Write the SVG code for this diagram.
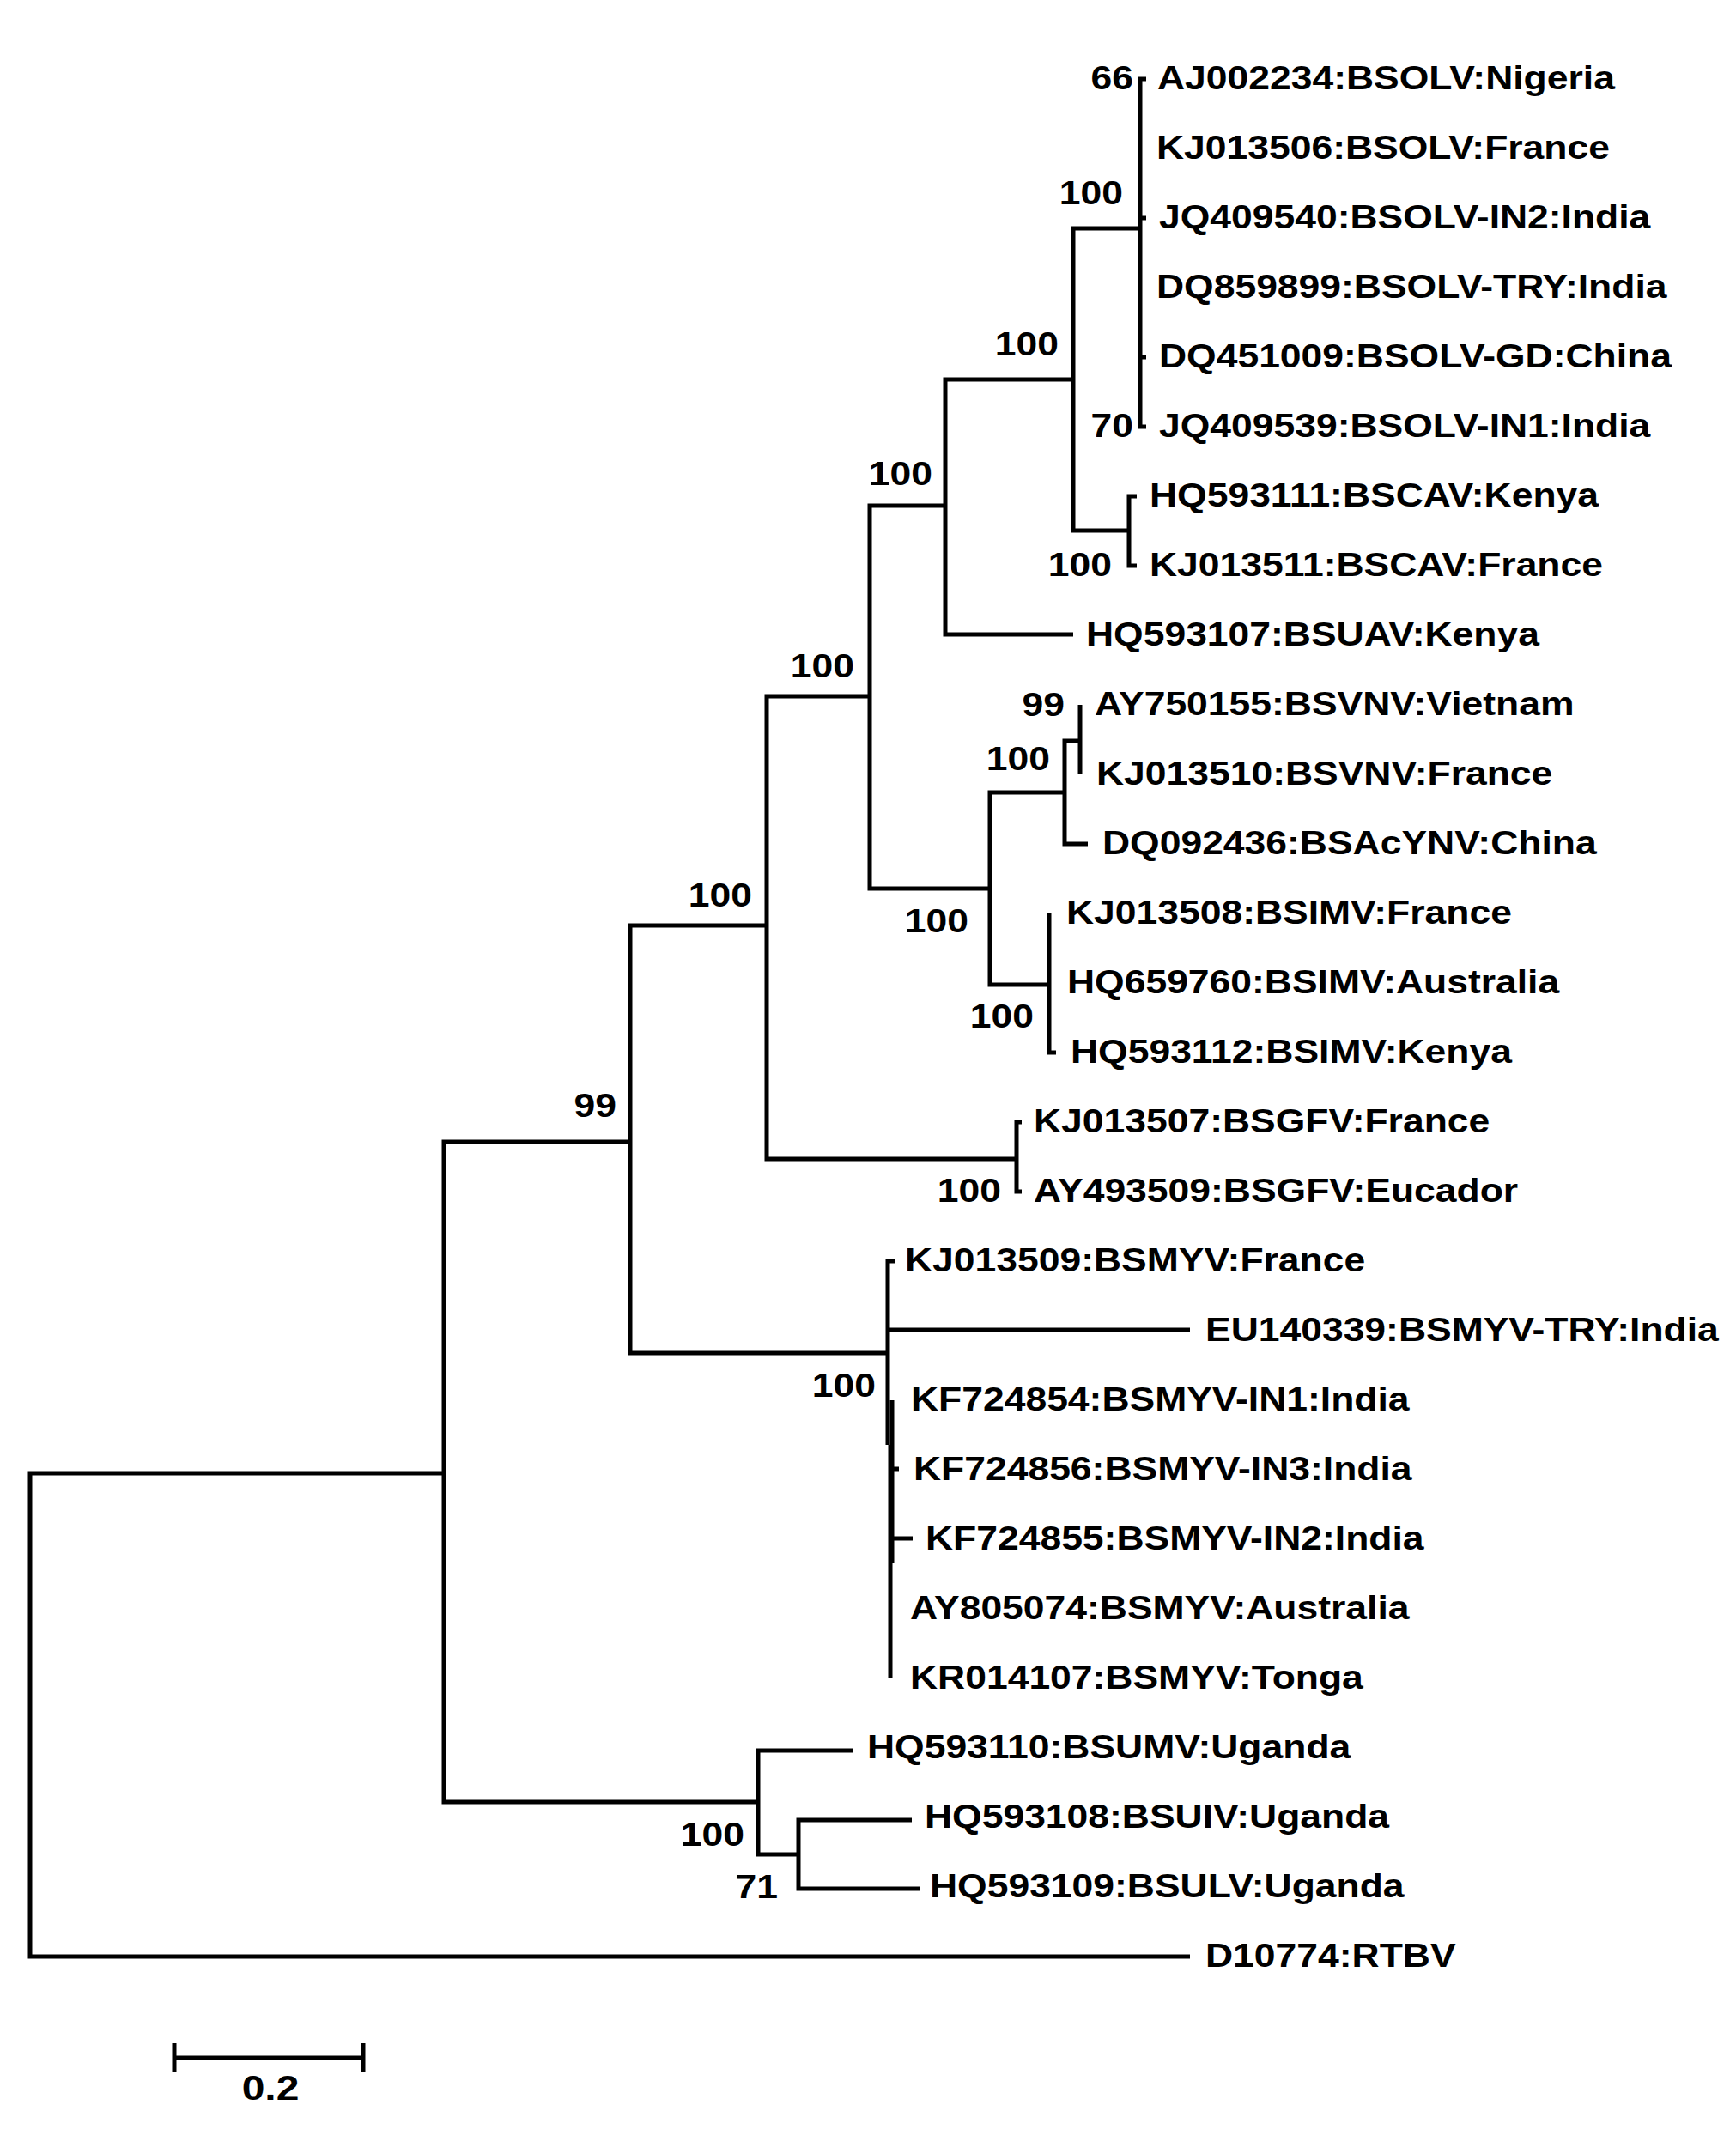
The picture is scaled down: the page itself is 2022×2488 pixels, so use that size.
<svg xmlns="http://www.w3.org/2000/svg" width="2022" height="2488" viewBox="0 0 2022 2488">
<style>
.br{fill:none;stroke:#000;stroke-width:5;stroke-linejoin:miter;stroke-linecap:butt}
.lab{font-family:"Liberation Sans",Arial,sans-serif;font-weight:bold;font-size:38.5px;fill:#000}
.bs{font-family:"Liberation Sans",Arial,sans-serif;font-weight:bold;font-size:38.5px;fill:#000;text-anchor:end}
.sc{font-family:"Liberation Sans",Arial,sans-serif;font-weight:bold;font-size:40px;fill:#000;text-anchor:middle}
</style>
<rect width="2022" height="2488" fill="#fff"/>
<g id="branches" class="br">
<path d="M517,1716 H35 V2279 H1386"/>
<path d="M734,1330 H517 V2099 H883"/>
<path d="M893,1078 H734 V1576 H1034"/>
<path d="M1013,811 H893 V1350 H1184"/>
<path d="M1101,589 H1013 V1035 H1153"/>
<path d="M1250,442 H1101 V739 H1250"/>
<path d="M1328,266 H1250 V618 H1315"/>
<path d="M1335,92 H1328 V497 H1335 M1328,254 H1335 M1328,416 H1335"/>
<path d="M1324,578 H1315 V659 H1324"/>
<path d="M1240,923 H1153 V1147 H1222"/>
<path d="M1258,863 H1240 V983 H1267"/>
<path d="M1258,821 V902"/>
<path d="M1222,1064 V1226 H1230"/>
<path d="M1190,1307 H1184 V1388 H1190"/>
<path d="M1042,1469 H1034 V1683 M1034,1549 H1386"/>
<path d="M1039,1631 V1820 M1037,1683 V1955 M1039,1711 H1047 M1039,1792 H1063"/>
<path d="M993,2039 H883 V2160 H930"/>
<path d="M1062,2120 H930 V2200 H1072"/>
</g>
<g id="leaves">
<g id="n0"><text class="lab" transform="translate(1348,104) scale(1.155 1)">AJ002234:BSOLV:Nigeria</text></g>
<g id="n1"><text class="lab" transform="translate(1347,185) scale(1.155 1)">KJ013506:BSOLV:France</text></g>
<g id="n2"><text class="lab" transform="translate(1350,266) scale(1.155 1)">JQ409540:BSOLV-IN2:India</text></g>
<g id="n3"><text class="lab" transform="translate(1347,347) scale(1.155 1)">DQ859899:BSOLV-TRY:India</text></g>
<g id="n4"><text class="lab" transform="translate(1350,428) scale(1.155 1)">DQ451009:BSOLV-GD:China</text></g>
<g id="n5"><text class="lab" transform="translate(1350,509) scale(1.155 1)">JQ409539:BSOLV-IN1:India</text></g>
<g id="n6"><text class="lab" transform="translate(1339,590) scale(1.155 1)">HQ593111:BSCAV:Kenya</text></g>
<g id="n7"><text class="lab" transform="translate(1339,671) scale(1.155 1)">KJ013511:BSCAV:France</text></g>
<g id="n8"><text class="lab" transform="translate(1265,752) scale(1.155 1)">HQ593107:BSUAV:Kenya</text></g>
<g id="n9"><text class="lab" transform="translate(1275,833) scale(1.155 1)">AY750155:BSVNV:Vietnam</text></g>
<g id="n10"><text class="lab" transform="translate(1277,914) scale(1.155 1)">KJ013510:BSVNV:France</text></g>
<g id="n11"><text class="lab" transform="translate(1284,995) scale(1.155 1)">DQ092436:BSAcYNV:China</text></g>
<g id="n12"><text class="lab" transform="translate(1242,1076) scale(1.155 1)">KJ013508:BSIMV:France</text></g>
<g id="n13"><text class="lab" transform="translate(1243,1157) scale(1.155 1)">HQ659760:BSIMV:Australia</text></g>
<g id="n14"><text class="lab" transform="translate(1247,1238) scale(1.155 1)">HQ593112:BSIMV:Kenya</text></g>
<g id="n15"><text class="lab" transform="translate(1204,1319) scale(1.155 1)">KJ013507:BSGFV:France</text></g>
<g id="n16"><text class="lab" transform="translate(1204,1400) scale(1.155 1)">AY493509:BSGFV:Eucador</text></g>
<g id="n17"><text class="lab" transform="translate(1054,1481) scale(1.155 1)">KJ013509:BSMYV:France</text></g>
<g id="n18"><text class="lab" transform="translate(1404,1562) scale(1.155 1)">EU140339:BSMYV-TRY:India</text></g>
<g id="n19"><text class="lab" transform="translate(1061,1643) scale(1.155 1)">KF724854:BSMYV-IN1:India</text></g>
<g id="n20"><text class="lab" transform="translate(1064,1724) scale(1.155 1)">KF724856:BSMYV-IN3:India</text></g>
<g id="n21"><text class="lab" transform="translate(1078,1805) scale(1.155 1)">KF724855:BSMYV-IN2:India</text></g>
<g id="n22"><text class="lab" transform="translate(1060,1886) scale(1.155 1)">AY805074:BSMYV:Australia</text></g>
<g id="n23"><text class="lab" transform="translate(1060,1967) scale(1.155 1)">KR014107:BSMYV:Tonga</text></g>
<g id="n24"><text class="lab" transform="translate(1010,2048) scale(1.155 1)">HQ593110:BSUMV:Uganda</text></g>
<g id="n25"><text class="lab" transform="translate(1077,2129) scale(1.155 1)">HQ593108:BSUIV:Uganda</text></g>
<g id="n26"><text class="lab" transform="translate(1083,2210) scale(1.155 1)">HQ593109:BSULV:Uganda</text></g>
<g id="n27"><text class="lab" transform="translate(1404,2291) scale(1.155 1)">D10774:RTBV</text></g>
</g>
<g id="bootstrap">
<text class="bs" transform="translate(1320,104) scale(1.155 1)">66</text>
<text class="bs" transform="translate(1308,238) scale(1.155 1)">100</text>
<text class="bs" transform="translate(1320,509) scale(1.155 1)">70</text>
<text class="bs" transform="translate(1295,671) scale(1.155 1)">100</text>
<text class="bs" transform="translate(1233,414) scale(1.155 1)">100</text>
<text class="bs" transform="translate(1086,565) scale(1.155 1)">100</text>
<text class="bs" transform="translate(995,789) scale(1.155 1)">100</text>
<text class="bs" transform="translate(1240,834) scale(1.155 1)">99</text>
<text class="bs" transform="translate(1223,897) scale(1.155 1)">100</text>
<text class="bs" transform="translate(1128,1086) scale(1.155 1)">100</text>
<text class="bs" transform="translate(1204,1197) scale(1.155 1)">100</text>
<text class="bs" transform="translate(1166,1400) scale(1.155 1)">100</text>
<text class="bs" transform="translate(876,1056) scale(1.155 1)">100</text>
<text class="bs" transform="translate(718,1301) scale(1.155 1)">99</text>
<text class="bs" transform="translate(1020,1627) scale(1.155 1)">100</text>
<text class="bs" transform="translate(867,2150) scale(1.155 1)">100</text>
<text class="bs" transform="translate(906,2211) scale(1.155 1)">71</text>
</g>
<g id="scalebar">
<path class="br" d="M203,2397 H423 M203,2380 V2413 M423,2380 V2413"/>
<text class="sc" transform="translate(315,2446) scale(1.2 1)">0.2</text>
</g>
</svg>
